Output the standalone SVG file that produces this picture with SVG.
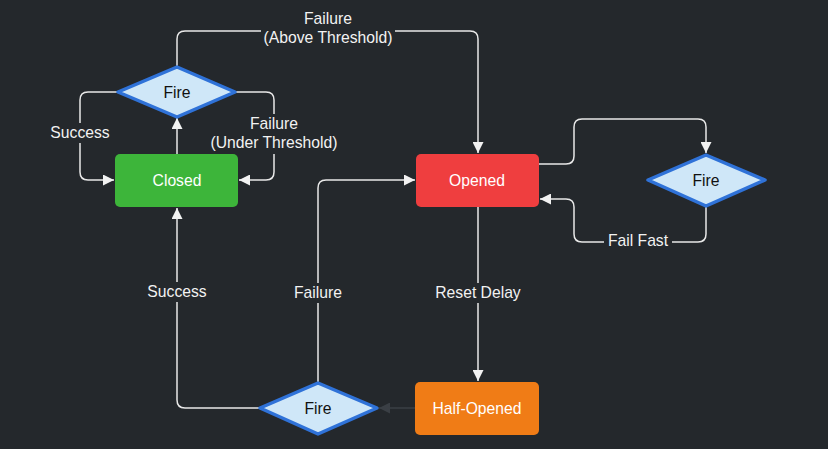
<svg xmlns="http://www.w3.org/2000/svg" width="828" height="449" viewBox="0 0 828 449">
<defs>
<marker id="arr" viewBox="0 0 10 10" refX="10" refY="5" markerWidth="11" markerHeight="11" markerUnits="userSpaceOnUse" orient="auto"><path d="M0,0 L10,5 L0,10 z" fill="#f2f2f2"/></marker>
<marker id="arrd" viewBox="0 0 10 10" refX="10" refY="5" markerWidth="11" markerHeight="11" markerUnits="userSpaceOnUse" orient="auto"><path d="M0,0 L10,5 L0,10 z" fill="#3a3f45"/></marker>
<style>
.c{fill:none;stroke:#e8e8e8;stroke-width:1.5;marker-end:url(#arr)}
.cd{fill:none;stroke:#3a3f45;stroke-width:1.5;marker-end:url(#arrd)}
.lb{font-family:"Liberation Sans",Arial,sans-serif;font-size:15.7px;fill:#f2f2f2;text-anchor:middle}
.bg{fill:#24282c}
.nt{font-family:"Liberation Sans",Arial,sans-serif;font-size:15.7px;fill:#ffffff;text-anchor:middle;dominant-baseline:central}
.dt{font-family:"Liberation Sans",Arial,sans-serif;font-size:15.7px;fill:#111111;text-anchor:middle;dominant-baseline:central}
.dm{fill:#cfe7f8;stroke:#2f72d8;stroke-width:3.5;stroke-linejoin:round}
</style>
</defs>
<rect width="828" height="449" fill="#24282c"/>
<g id="connectors">
<path class="c" d="M177,154 L177,118"/>
<path class="c" d="M118,92 L88,92 Q80,92 80,100 L80,172 Q80,180 88,180 L114,180"/>
<path class="c" d="M235,92 L266,92 Q274,92 274,100 L274,172 Q274,180 266,180 L239,180"/>
<path class="c" d="M177,67 L177,39 Q177,31 185,31 L470,31 Q478,31 478,39 L478,153"/>
<path class="c" d="M539,164 L566,164 Q574,164 574,156 L574,127 Q574,119 582,119 L698,119 Q706,119 706,127 L706,153"/>
<path class="c" d="M706,207 L706,234 Q706,242 698,242 L582,242 Q574,242 574,234 L574,207 Q574,199 566,199 L540,199"/>
<path class="c" d="M478,207 L478,381"/>
<path class="cd" d="M415,408 L379,408"/>
<path class="c" d="M259,408 L185,408 Q177,408 177,400 L177,208"/>
<path class="c" d="M318,383 L318,188 Q318,180 326,180 L415,180"/>
<rect class="bg" x="46" y="123" width="68" height="20"/>
<text class="lb" x="80" y="138">Success</text>
<rect class="bg" x="206" y="114" width="136" height="40"/>
<text class="lb" x="274" y="129">Failure</text>
<text class="lb" x="274" y="148">(Under Threshold)</text>
<rect class="bg" x="261" y="9" width="134" height="38"/>
<text class="lb" x="328" y="24">Failure</text>
<text class="lb" x="328" y="43">(Above Threshold)</text>
<rect class="bg" x="604" y="232" width="68" height="20"/>
<text class="lb" x="638" y="246">Fail Fast</text>
<rect class="bg" x="430" y="283" width="96" height="20"/>
<text class="lb" x="478" y="298">Reset Delay</text>
<rect class="bg" x="143" y="282" width="68" height="20"/>
<text class="lb" x="177" y="297">Success</text>
<rect class="bg" x="290" y="283" width="56" height="20"/>
<text class="lb" x="318" y="298">Failure</text>
</g>
<g id="closed">
<rect x="115" y="154" width="123" height="53" rx="5" fill="#3db53a"/>
<text class="nt" x="177" y="180.5">Closed</text>
</g>
<g id="fire1">
<path class="dm" d="M177,67 L235,92 L177,117 L118,92 Z"/>
<text class="dt" x="177" y="92">Fire</text>
</g>
<g id="opened">
<rect x="416" y="154" width="123" height="53" rx="5" fill="#ef3e3f"/>
<text class="nt" x="477" y="180.5">Opened</text>
</g>
<g id="fire2">
<path class="dm" d="M706,155 L765,180 L706,206 L648,180 Z"/>
<text class="dt" x="706" y="180">Fire</text>
</g>
<g id="halfopened">
<rect x="415" y="382" width="124" height="53" rx="5" fill="#f07c16"/>
<text class="nt" x="477" y="408.5">Half-Opened</text>
</g>
<g id="fire3">
<path class="dm" d="M318,383 L377,408 L318,434 L260,408 Z"/>
<text class="dt" x="318" y="408">Fire</text>
</g>
</svg>
